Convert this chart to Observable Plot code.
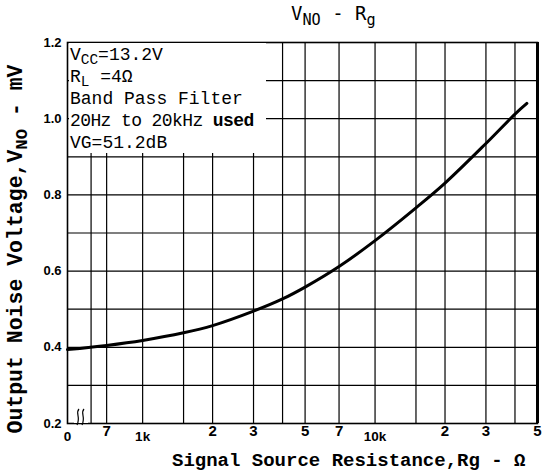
<!DOCTYPE html>
<html>
<head>
<meta charset="utf-8">
<script src="https://cdn.jsdelivr.net/npm/d3@7"></script>
<script src="https://cdn.jsdelivr.net/npm/@observablehq/plot@0.6"></script>
<style>
  html, body { margin: 0; padding: 0; background: #fff; }
  #wrap { position: relative; width: 549px; height: 476px; overflow: hidden; }
  .ov { position: absolute; white-space: nowrap; color: #000; }
  sub { font-size: 0.8em; vertical-align: -0.3em; line-height: 0; }
</style>
</head>
<body>
<div id="wrap"></div>
<script>
// Signal source resistance (ohms); first point is the "0" at the axis break
const rg = [475, 700, 1000, 1500, 2000, 3000, 4000, 5000, 7000, 10000, 15000, 20000, 30000, 40000, 45000];
// Output noise voltage (mV)
const vno = [0.394, 0.405, 0.418, 0.438, 0.457, 0.495, 0.527, 0.558, 0.612, 0.68, 0.766, 0.831, 0.935, 1.012, 1.04];

const gridX = [600, 700, 1000, 1500, 2000, 3000, 4000, 5000, 7000, 10000, 15000, 20000, 30000, 40000];
const gridY = [0.3, 0.4, 0.5, 0.6, 0.7, 0.8, 0.9, 1.0, 1.1];
const yTicks = [0.2, 0.4, 0.6, 0.8, 1.0, 1.2];
const xDigitTicks = [700, 2000, 3000, 5000, 7000, 20000, 30000, 50000];
const xDigitLabels = ["7", "2", "3", "5", "7", "2", "3", "5"];
const xLowTicks = [475, 1000, 10000];
const xLowLabels = ["0", "1k", "10k"];
const xDomain = [475, 50000];
const yDomain = [0.2, 1.2];

const data = rg.map((r, i) => ({r, v: vno[i]}));
const tickFont = "Liberation Sans, Arial, sans-serif";

const chart = Plot.plot({
  width: 549,
  height: 476,
  marginLeft: 67,
  marginRight: 12,
  marginTop: 42,
  marginBottom: 53,
  style: {background: "white", overflow: "visible"},
  x: {type: "log", domain: xDomain, axis: null},
  y: {domain: yDomain},
  marks: [
    Plot.ruleX(gridX, {stroke: "#000", strokeWidth: 1.2}),
    Plot.ruleY(gridY, {stroke: "#000", strokeWidth: 1.2}),
    Plot.frame({stroke: "#000", strokeWidth: 1.6}),
    Plot.ruleX([xDomain[1]], {stroke: "#000", strokeWidth: 3}),
    Plot.line(data, {x: "r", y: "v", stroke: "#000", strokeWidth: 3, curve: "catmull-rom"}),
    Plot.axisY(yTicks, {tickSize: 0, tickPadding: 6, tickFormat: d => d.toFixed(1), fontSize: 13, fontWeight: "bold", fontFamily: tickFont, label: null}),
    Plot.text(xDigitTicks, {x: d => d, text: (d, i) => xDigitLabels[i], frameAnchor: "bottom", lineAnchor: "top", dy: 2, fontSize: 15, fontWeight: "bold", fontFamily: tickFont}),
    Plot.text(xLowTicks, {x: d => d, text: (d, i) => xLowLabels[i], frameAnchor: "bottom", lineAnchor: "top", dy: 8, fontSize: 13.5, fontWeight: "bold", fontFamily: tickFont})
  ]
});

const wrap = document.getElementById("wrap");
wrap.appendChild(chart);

function ov(html, css) {
  const d = document.createElement("div");
  d.className = "ov";
  d.innerHTML = html;
  Object.assign(d.style, css);
  wrap.appendChild(d);
  return d;
}

// annotation box (white) covering grid in top-left
ov("", {left: "68.5px", top: "43px", width: "197px", height: "110px", background: "#fff"});
ov('V<sub>CC</sub>=13.2V<br>R<sub>L</sub> =4&Omega;<br>Band Pass Filter<br><span style="letter-spacing:-0.6px">20Hz to 20kHz <b>used</b></span><br>VG=51.2dB',
   {left: "70px", top: "44px", fontFamily: '"Liberation Mono", "DejaVu Sans Mono", monospace', fontSize: "18px", lineHeight: "22px"});

// title
ov('V<sub>NO</sub> - R<sub>g</sub>', {left: "291px", top: "2px", fontFamily: '"DejaVu Sans Mono", monospace', fontSize: "19px"});

// axis break symbol
ov('<svg width="16" height="20" style="display:block"><rect x="0" y="12" width="14" height="4" fill="#fff"/>' +
   '<path d="M5,2 C1,6 7,10 3,18 M10,2 C6,6 12,10 8,18" fill="none" stroke="#000" stroke-width="1.2"/></svg>',
   {left: "74px", top: "407px"});

// x label
ov('Signal Source Resistance,Rg - &Omega;', {left: "172px", top: "450px", fontFamily: '"Liberation Mono", monospace', fontWeight: "bold", fontSize: "19px"});

// y label (rotated)
ov('Output Noise Voltage,V<sub>NO</sub> - mV', {left: "16px", top: "249px", fontFamily: '"Liberation Mono", monospace', fontWeight: "bold", fontSize: "21.5px", transform: "translate(-50%, -50%) rotate(-90deg)"});
</script>
</body>
</html>
